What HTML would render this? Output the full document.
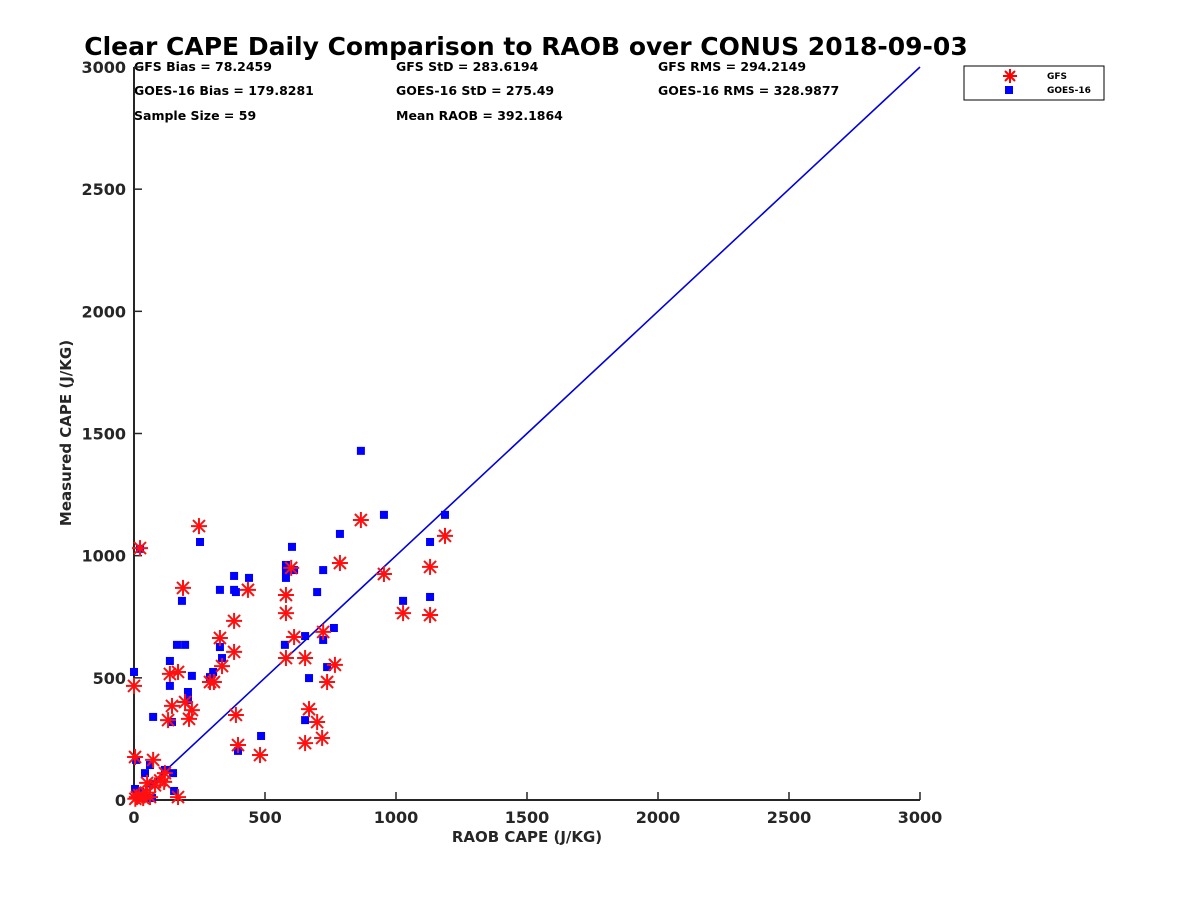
<!DOCTYPE html>
<html><head><meta charset="utf-8"><style>
body{margin:0;background:#fff;font-family:"Liberation Sans",sans-serif}
svg text{font-family:"DejaVu Sans","Liberation Sans",sans-serif;font-weight:bold}
</style></head><body>
<svg id="chart" width="1200" height="900" xmlns="http://www.w3.org/2000/svg">
<text x="526" y="55" font-size="25" text-anchor="middle" fill="#000">Clear CAPE Daily Comparison to RAOB over CONUS 2018-09-03</text>
<g id="stats" font-size="12.5" fill="#000">
<text x="134" y="71">GFS Bias = 78.2459</text>
<text x="134" y="95">GOES-16 Bias = 179.8281</text>
<text x="134" y="120">Sample Size = 59</text>
<text x="396" y="71">GFS StD = 283.6194</text>
<text x="396" y="95">GOES-16 StD = 275.49</text>
<text x="396" y="120">Mean RAOB = 392.1864</text>
<text x="658" y="71">GFS RMS = 294.2149</text>
<text x="658" y="95">GOES-16 RMS = 328.9877</text>
</g>
<g id="axes"></g>
<g id="marks"></g>
<g>
<rect x="964" y="66" width="140" height="34" fill="#fff" stroke="#000" stroke-width="1"/>
<g>
<g stroke="red" stroke-width="2" transform="translate(1010,76)"><line x1="-7" y1="0" x2="7" y2="0"/><line x1="0" y1="-7" x2="0" y2="7"/><line x1="-5" y1="-5" x2="5" y2="5"/><line x1="-5" y1="5" x2="5" y2="-5"/></g>
<text x="1047" y="79" font-size="9">GFS</text></g>
<g>
<rect x="1005" y="86" width="8" height="8" fill="#0000ff"/>
<text x="1047" y="93" font-size="9">GOES-16</text></g>
</g>
</svg>
<script>
const xTicks=[0,500,1000,1500,2000,2500,3000];
const yTicks=[0,500,1000,1500,2000,2500,3000];
const gfsX=[0,23,248,187,4,73,50,118,115,168,11,61,137,168,145,130,195,210,221,328,336,382,382,290,305,435,389,397,481,580,580,611,580,600,653,653,668,699,718,722,737,767,786,866,954,1027,1130,1130,1187,5,20,35,45,80,100];
const gfsY=[467,1031,1121,868,176,164,70,110,74,12,12,12,516,524,385,327,401,332,368,663,548,733,606,483,483,860,348,225,184,839,765,667,581,950,581,233,372,319,254,688,483,553,970,1146,925,765,954,757,1081,5,20,8,30,60,80];
const goesX=[0,23,252,183,164,195,137,137,145,73,221,206,206,290,302,328,336,328,382,389,382,439,397,485,576,580,580,580,603,611,653,653,668,699,722,722,737,763,786,866,954,1027,1130,1130,1187,8,42,61,118,153,149,4,15,42,69,73,23];
const goesY=[524,1028,1056,815,635,635,569,467,319,340,508,442,409,503,524,626,581,860,860,851,917,909,201,262,635,909,962,940,1036,941,671,327,499,851,941,655,544,704,1089,1429,1167,815,1056,831,1167,164,110,143,123,37,110,45,12,8,8,65,33];
const lineX=[50,500,1000,1500,2000,2500,3000];
const lineY=[50,500,1000,1500,2000,2500,3000];
const NS="http://www.w3.org/2000/svg";
const sx=v=>134+v*786/3000, sy=v=>800-v*733/3000;
function mk(tag,attrs,parent){const e=document.createElementNS(NS,tag);for(const k in attrs)e.setAttribute(k,attrs[k]);parent.appendChild(e);return e;}
const axes=document.getElementById('axes'), marks=document.getElementById('marks');
const xa=mk('line',{x1:134,y1:800,x2:920,y2:800,stroke:'#262626','stroke-width':2},axes);


const ya=mk('line',{x1:134,y1:800,x2:134,y2:67,stroke:'#262626','stroke-width':2},axes);


xTicks.forEach(t=>{mk('line',{x1:sx(t),y1:800,x2:sx(t),y2:792,stroke:'#262626','stroke-width':1.5},axes);
const tx=mk('text',{x:sx(t),y:823,'font-size':16,'text-anchor':'middle',fill:'#262626'},axes);tx.textContent=t;

});
yTicks.forEach(t=>{mk('line',{x1:134,y1:sy(t),x2:142,y2:sy(t),stroke:'#262626','stroke-width':1.5},axes);
const tx=mk('text',{x:126,y:sy(t)+6,'font-size':16,'text-anchor':'end',fill:'#262626'},axes);tx.textContent=t;

});
const xt=mk('text',{x:527,y:842,'font-size':15,'text-anchor':'middle',fill:'#262626'},axes);xt.textContent='RAOB CAPE (J/KG)';


const yt=mk('text',{x:0,y:0,'font-size':15,'text-anchor':'middle',fill:'#262626',transform:'translate(71,433) rotate(-90)'},axes);yt.textContent='Measured CAPE (J/KG)';


const pl=mk('polyline',{points:lineX.map((v,i)=>sx(v)+','+sy(lineY[i])).join(' '),fill:'none',stroke:'#0000e0','stroke-width':1.6},marks);


goesX.forEach((v,i)=>{const r=mk('rect',{x:sx(v)-4,y:sy(goesY[i])-4,width:8,height:8,fill:'#0000ff'},marks);

});
gfsX.forEach((v,i)=>{const g=mk('g',{transform:`translate(${sx(v)},${sy(gfsY[i])})`,stroke:'#ff1010','stroke-width':2},marks);


mk('line',{x1:-8,y1:0,x2:8,y2:0},g);mk('line',{x1:0,y1:-8,x2:0,y2:8},g);mk('line',{x1:-6,y1:-6,x2:6,y2:6},g);mk('line',{x1:-6,y1:6,x2:6,y2:-6},g);});
</script>
</body></html>
